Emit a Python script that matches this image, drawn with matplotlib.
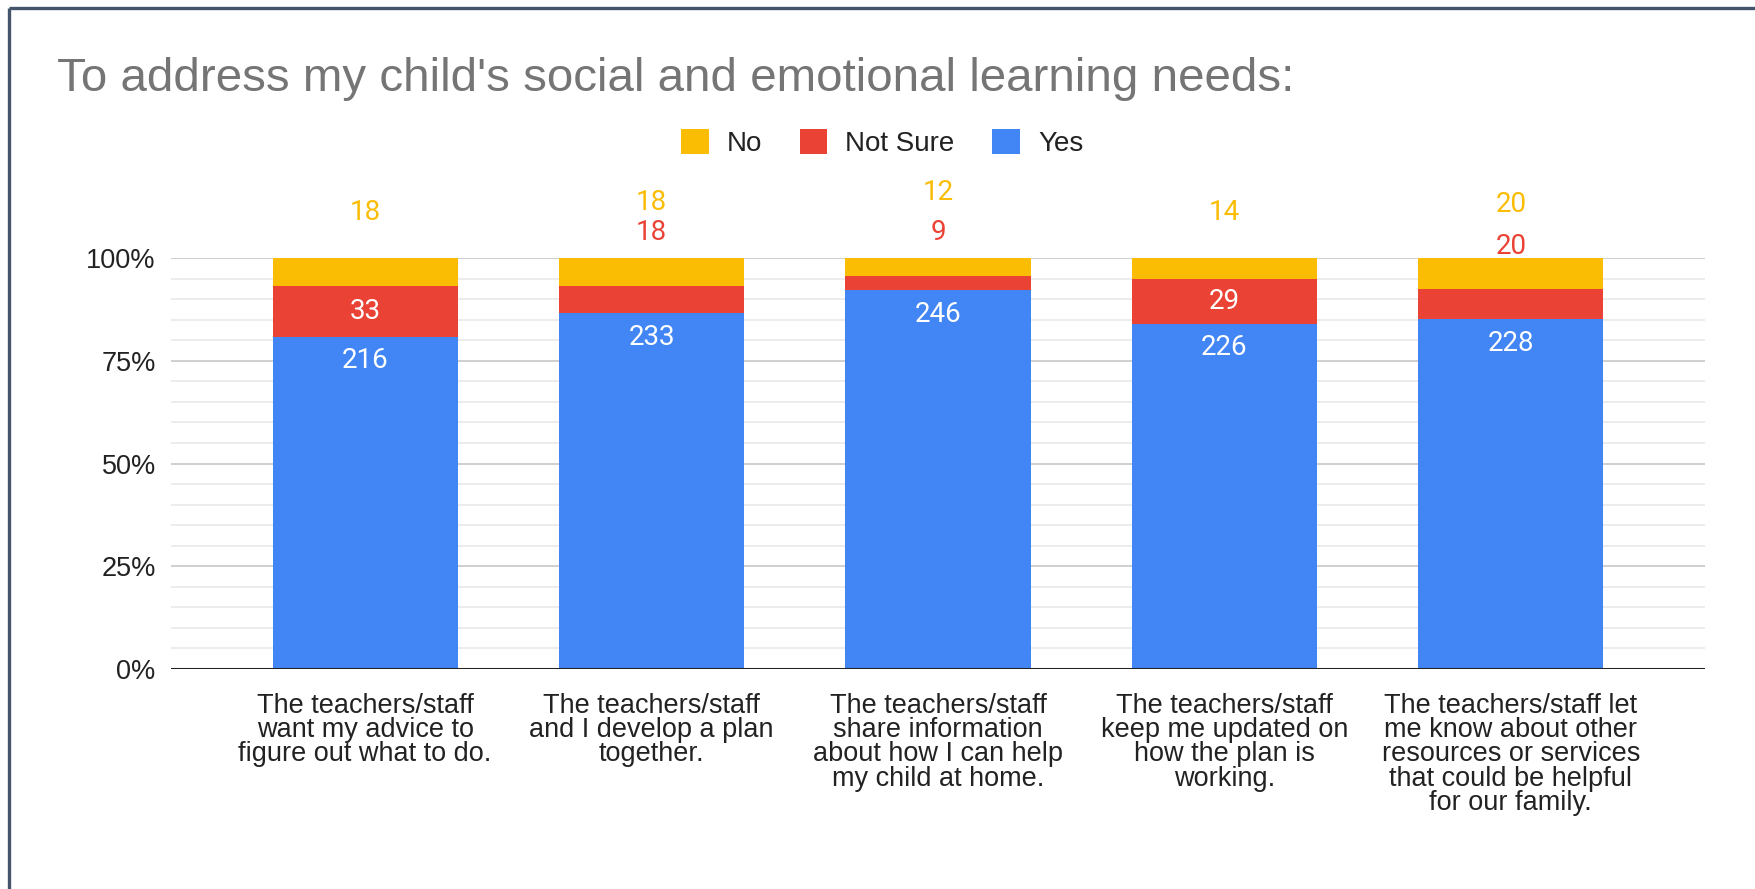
import numpy as np
import matplotlib
matplotlib.use("Agg")
import matplotlib.pyplot as plt
from matplotlib.patches import Patch
from matplotlib.lines import Line2D
from matplotlib.ticker import MultipleLocator, PercentFormatter

# survey responses per statement
categories = [
    "The teachers/staff\nwant my advice to\nfigure out what to do.",
    "The teachers/staff\nand I develop a plan\ntogether.",
    "The teachers/staff\nshare information\nabout how I can help\nmy child at home.",
    "The teachers/staff\nkeep me updated on\nhow the plan is\nworking.",
    "The teachers/staff let\nme know about other\nresources or services\nthat could be helpful\nfor our family.",
]
yes = [216, 233, 246, 226, 228]
not_sure = [33, 18, 9, 29, 20]
no = [18, 18, 12, 14, 20]

# pixel offsets above the 100% line for labels of thin segments
no_label_px = [45, 56, 66, 45, 54]
ns_label_px = [None, 26, 26, None, 12]

BLUE, RED, YELLOW = "#4285f4", "#ea4335", "#fbbc04"
SANS = ["Liberation Sans", "DejaVu Sans"]
LABEL_FONT = ["Roboto", "DejaVu Sans"]

W, H = 1756, 889
fig = plt.figure(figsize=(W / 100, H / 100), dpi=100)
fig.patch.set_facecolor("white")

ax_l, ax_r, ax_t, ax_b = 171, 1705, 258, 669
ax = fig.add_axes([ax_l / W, 1 - ax_b / H, (ax_r - ax_l) / W, (ax_b - ax_t) / H])

yes_a, ns_a, no_a = np.array(yes), np.array(not_sure), np.array(no)
total = yes_a + ns_a + no_a
f_yes, f_ns, f_no = yes_a / total, ns_a / total, no_a / total

x = np.arange(len(categories))
bw = 0.646
ax.bar(x, f_yes, bw, color=BLUE, zorder=3)
ax.bar(x, f_ns, bw, bottom=f_yes, color=RED, zorder=3)
ax.bar(x, f_no, bw, bottom=f_yes + f_ns, color=YELLOW, zorder=3)

ax.set_xlim(-0.678, len(categories) - 1 + 0.678)
ax.set_ylim(0, 1)

ax.yaxis.set_major_locator(MultipleLocator(0.25))
ax.yaxis.set_minor_locator(MultipleLocator(0.05))
ax.yaxis.set_major_formatter(PercentFormatter(1.0, decimals=0))
ax.grid(axis="y", which="major", color="#cccccc", lw=1.3, zorder=0)
ax.grid(axis="y", which="minor", color="#ebebeb", lw=1.3, zorder=0)
ax.axhline(0, color="#222222", lw=2.2, zorder=4)
for s in ax.spines.values():
    s.set_visible(False)
ax.tick_params(axis="both", which="both", length=0)
ax.tick_params(axis="y", pad=11, labelsize=19.5, labelcolor="#222222")
ax.set_xticks(x)
ax.set_xticklabels(categories, fontsize=19.5, color="#222222", linespacing=0.92,
                   va="top")
ax.tick_params(axis="x", pad=17)
for t in ax.get_yticklabels() + ax.get_xticklabels():
    t.set_family(SANS)

px = 72 / 100  # points per pixel
lab = dict(ha="center", va="center", fontsize=20, family=LABEL_FONT,
           textcoords="offset points", annotation_clip=False, zorder=5)
for i in range(len(categories)):
    ax.annotate(str(yes[i]), (x[i], f_yes[i]), xytext=(0, -24 * px),
                color="white", **lab)
    if ns_label_px[i] is None:
        ax.annotate(str(not_sure[i]), (x[i], f_yes[i] + f_ns[i] / 2),
                    xytext=(0, 0), color="white", **lab)
    else:
        ax.annotate(str(not_sure[i]), (x[i], 1.0),
                    xytext=(0, ns_label_px[i] * px), color=RED, **lab)
    ax.annotate(str(no[i]), (x[i], 1.0), xytext=(0, no_label_px[i] * px),
                color=YELLOW, **lab)

fig.text(57 / W, 1 - 91 / H, "To address my child's social and emotional learning needs:",
         fontsize=34.2, color="#757575", family=SANS, ha="left", va="baseline")

handles = [Patch(facecolor=YELLOW, label="No"),
           Patch(facecolor=RED, label="Not Sure"),
           Patch(facecolor=BLUE, label="Yes")]
leg = fig.legend(handles=handles, loc="center", bbox_to_anchor=(882 / W, 1 - 143 / H),
                 ncol=3, frameon=False, handlelength=1.0, handleheight=1.0,
                 handletextpad=0.65, columnspacing=1.35,
                 prop={"family": SANS, "size": 20})
for t in leg.get_texts():
    t.set_color("#222222")

# window frame along the top and left edges
fig.add_artist(Line2D([9.5 / W, 9.5 / W], [0, 1 - 7.5 / H], transform=fig.transFigure,
                      color="#44546a", lw=2.4, solid_capstyle="butt"))
fig.add_artist(Line2D([9.5 / W, 1], [1 - 7.5 / H, 1 - 7.5 / H], transform=fig.transFigure,
                      color="#44546a", lw=2.4, solid_capstyle="butt"))

fig.savefig("out.png", dpi=100)
